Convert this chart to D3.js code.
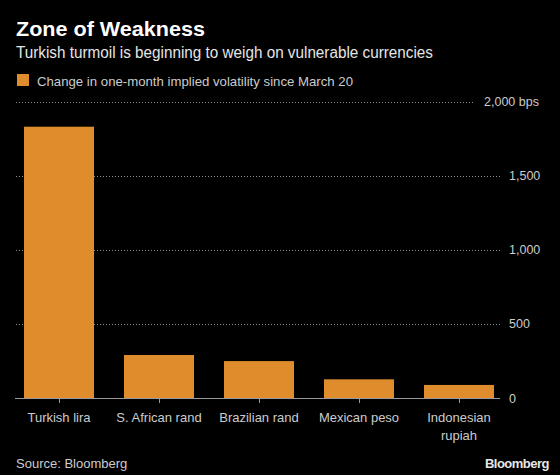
<!DOCTYPE html>
<html><head><meta charset="utf-8">
<script src="https://cdn.jsdelivr.net/npm/d3@7"></script>
<style>
body{margin:0;background:#000;}
text{font-family:"Liberation Sans",Arial,sans-serif;}
</style></head>
<body><svg id="c" width="560" height="475"></svg>
<script>
const categories = ["Turkish lira","S. African rand","Brazilian rand","Mexican peso","Indonesian rupiah"];
const categoryLines = [["Turkish lira"],["S. African rand"],["Brazilian rand"],["Mexican peso"],["Indonesian","rupiah"]];
const values = [1830, 290, 249, 126, 88];
const tickValues = [0, 500, 1000, 1500, 2000];
const tickLabels = ["0","500","1,000","1,500","2,000 bps"];

const svg = d3.select("#c");
svg.append("rect").attr("width",560).attr("height",475).attr("fill","#000");

const x = d3.scaleBand().domain(categories).range([9,509]).paddingInner(0.3).paddingOuter(0.15);
const y = d3.scaleLinear().domain([0,2000]).range([398,101.5]);

// title
svg.append("text").attr("x",16).attr("y",36).attr("fill","#fff").attr("font-size",21).attr("font-weight","bold")
  .attr("textLength",189).attr("lengthAdjust","spacingAndGlyphs").text("Zone of Weakness");
svg.append("text").attr("x",16).attr("y",58).attr("fill","#e6e6e6").attr("font-size",16)
  .attr("textLength",417).attr("lengthAdjust","spacingAndGlyphs").text("Turkish turmoil is beginning to weigh on vulnerable currencies");
svg.append("rect").attr("x",17).attr("y",74).attr("width",12).attr("height",12).attr("fill","#de8c2c");
svg.append("text").attr("x",37).attr("y",86).attr("fill","#cccccc").attr("font-size",13.3)
  .attr("textLength",316).attr("lengthAdjust","spacingAndGlyphs").text("Change in one-month implied volatility since March 20");

// gridlines
svg.append("g").selectAll("line").data(tickValues.filter(d=>d>0)).join("line")
  .attr("x1",16).attr("x2",d=>d===2000?475:500)
  .attr("y1",d=>Math.round(y(d))+0.5).attr("y2",d=>Math.round(y(d))+0.5)
  .attr("stroke","#8a8a8a").attr("stroke-width",1).attr("stroke-dasharray","1,2");

// bars
svg.append("g").selectAll("rect").data(values).join("rect")
  .attr("x",(d,i)=>x(categories[i])).attr("width",x.bandwidth())
  .attr("y",d=>y(d)).attr("height",d=>y(0)-y(d)).attr("fill","#de8c2c");

// baseline
svg.append("line").attr("x1",15).attr("x2",500).attr("y1",398.5).attr("y2",398.5).attr("stroke","#999").attr("stroke-width",1);
// ticks
svg.append("g").selectAll("line").data(categories).join("line")
  .attr("x1",d=>Math.round(x(d)+x.bandwidth()/2)+0.5).attr("x2",d=>Math.round(x(d)+x.bandwidth()/2)+0.5)
  .attr("y1",399).attr("y2",403).attr("stroke","#999");

// y labels
svg.append("g").selectAll("text").data(tickValues).join("text")
  .attr("x",d=>d===2000?484:509).attr("y",d=>y(d)+4.5).attr("fill","#cccccc").attr("font-size",12.5)
  .text((d,i)=>tickLabels[i]);

// x labels
const xl = svg.append("g").selectAll("text").data(categories).join("text")
  .attr("x",d=>x(d)+x.bandwidth()/2).attr("y",421.5).attr("text-anchor","middle")
  .attr("fill","#cccccc").attr("font-size",13);
xl.each(function(d,i){
  const t=d3.select(this);
  categoryLines[i].forEach((l,j)=>t.append("tspan").attr("x",x(d)+x.bandwidth()/2).attr("dy",j?18.5:0).text(l));
});

svg.append("text").attr("x",16).attr("y",468).attr("fill","#cccccc").attr("font-size",13).text("Source: Bloomberg");
svg.append("text").attr("x",549).attr("y",468).attr("text-anchor","end").attr("fill","#e6e6e6").attr("font-size",13).attr("font-weight","bold").attr("letter-spacing","-0.5").text("Bloomberg");
</script></body></html>
